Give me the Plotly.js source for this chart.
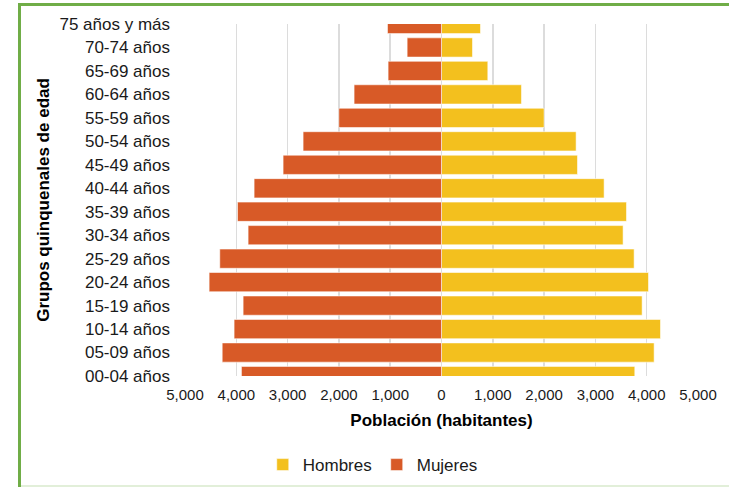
<!DOCTYPE html>
<html>
<head>
<meta charset="utf-8">
<script src="https://cdn.plot.ly/plotly-3.0.1.min.js"></script>
<style>
html,body{margin:0;padding:0;background:#fff;}
#wrap{position:relative;width:729px;height:487px;overflow:hidden;}
#chart{position:absolute;left:0;top:0;width:729px;height:487px;}
.fr{position:absolute;}
</style>
</head>
<body>
<div id="wrap">
<div id="chart"></div>
<div class="fr" style="left:18px;top:3px;width:711px;height:3px;background:#70AD47;"></div>
<div class="fr" style="left:18px;top:3px;width:3px;height:484px;background:#70AD47;"></div>
<div class="fr" style="left:21px;top:485px;width:708px;height:2px;background:#E2EFD9;"></div>
</div>
<script>
const categories = ["00-04 años","05-09 años","10-14 años","15-19 años","20-24 años","25-29 años","30-34 años","35-39 años","40-44 años","45-49 años","50-54 años","55-59 años","60-64 años","65-69 años","70-74 años","75 años y más"];
const hombres = [3768,4145,4269,3911,4035,3755,3540,3606,3170,2651,2624,2000,1559,903,604,760];
const mujeres = [3900,4275,4043,3867,4530,4322,3770,3977,3653,3088,2698,2002,1704,1041,670,1053];
const tickVals = [-5000,-4000,-3000,-2000,-1000,0,1000,2000,3000,4000,5000];
const tickText = ["5,000","4,000","3,000","2,000","1,000","0","1,000","2,000","3,000","4,000","5,000"];

const font = "Liberation Sans, Arial, sans-serif";
const traces = [
  {type:"bar", orientation:"h", name:"Hombres", y:categories, x:hombres,
   marker:{color:"#F3C01E", line:{color:"rgba(255,255,255,0.55)", width:1}}, hoverinfo:"x+y"},
  {type:"bar", orientation:"h", name:"Mujeres", y:categories, x:mujeres.map(v=>-v),
   marker:{color:"#D85A27", line:{color:"rgba(255,255,255,0.55)", width:1}}, hoverinfo:"y"}
];
const layout = {
  width:729, height:487,
  margin:{l:185, r:31, t:24, b:111, autoexpand:false},
  paper_bgcolor:"#fff", plot_bgcolor:"#fff",
  font:{family:font, color:"#1a1a1a"},
  barmode:"relative", bargap:0.18,
  showlegend:true,
  legend:{orientation:"h", x:0.366, xanchor:"center", y:-0.253, yanchor:"middle",
          font:{size:17, family:font, color:"#1a1a1a"}, traceorder:"normal", itemwidth:30},
  xaxis:{range:[-5000,5000], tickvals:tickVals, ticktext:tickText, showgrid:true, automargin:false,
         gridcolor:"#DCDCDC", gridwidth:1.5, zeroline:false, showline:false, ticks:"",
         tickfont:{size:15, family:font, color:"#1a1a1a"}, ticklabelstandoff:8, fixedrange:true,
         title:{text:"Población (habitantes)", font:{size:17, family:font, color:"#000", weight:"bold"}, standoff:12}},
  yaxis:{type:"category", range:[0,15], showgrid:false, zeroline:false, showline:false, ticks:"", automargin:false,
         tickfont:{size:17, family:font, color:"#1a1a1a"}, ticklabelstandoff:14, fixedrange:true,
         title:{text:"Grupos quinquenales de edad", font:{size:17, family:font, color:"#000", weight:"bold"}, standoff:5}}
};
Plotly.newPlot("chart", traces, layout, {displayModeBar:false, staticPlot:true});
</script>
</body>
</html>
